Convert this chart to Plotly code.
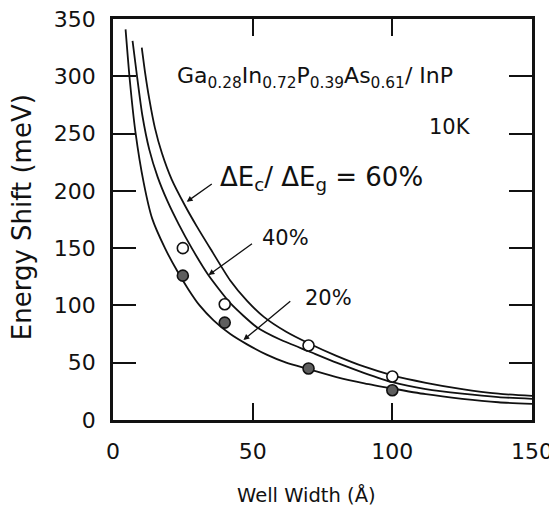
import plotly.graph_objects as go

# Calculated curves
x_60 = [10.3, 11.5, 13, 15, 17.5, 21, 25.8, 30, 35, 41.9, 48, 54, 62, 70, 80, 90, 100, 112, 125, 138, 150]
y_60 = [325, 303, 280, 255, 233, 210, 187, 169, 149, 122, 104, 90, 77, 67, 56, 46.5, 39, 32.5, 27, 23, 21]

x_40 = [7, 8.5, 10.5, 13, 16, 19.5, 23.5, 28.2, 34, 42, 51.5, 60, 70, 80, 90, 100, 112, 125, 138, 150]
y_40 = [331, 302, 266, 236, 212, 191, 171, 150, 127, 102, 81, 70, 60, 50, 41, 33, 27, 23, 20, 18.5]

x_20 = [4.5, 6, 8, 11, 14, 18.6, 23, 27, 31, 36, 42, 48, 55, 62, 70, 80, 90, 100, 112, 125, 138, 150]
y_20 = [341, 297, 252, 207, 176, 150, 130, 114, 100, 87, 75, 66, 57, 50, 44.5, 37.5, 32, 27.5, 22.5, 18.5, 15.5, 14]

# Measured points
x_open = [25, 40, 70, 100]
y_open = [150, 101, 65, 38]
x_filled = [25, 40, 70, 100]
y_filled = [126, 85, 45, 26]

x_ticks = [0, 50, 100, 150]
y_ticks = [0, 50, 100, 150, 200, 250, 300, 350]

FONT = "DejaVu Sans"
INK = "#111111"

fig = go.Figure()
for xs, ys in [(x_60, y_60), (x_40, y_40), (x_20, y_20)]:
    fig.add_trace(go.Scatter(x=xs, y=ys, mode="lines",
                             line=dict(color=INK, width=1.8, shape="spline", smoothing=0.6),
                             showlegend=False, hoverinfo="skip"))

fig.add_trace(go.Scatter(x=x_open, y=y_open, mode="markers",
                         marker=dict(symbol="circle", size=11, color="white",
                                     line=dict(color=INK, width=1.6)),
                         showlegend=False))
fig.add_trace(go.Scatter(x=x_filled, y=y_filled, mode="markers",
                         marker=dict(symbol="circle", size=11, color="#5e5e5e",
                                     line=dict(color=INK, width=1.6)),
                         showlegend=False))

tfont = dict(family=FONT, size=21, color=INK)
fig.add_annotation(x=22.2, y=299, xref="x", yref="y", xanchor="left", yanchor="middle",
                   text="Ga<sub>0.28</sub>In<sub>0.72</sub>P<sub>0.39</sub>As<sub>0.61</sub>/ InP",
                   showarrow=False, font=dict(family=FONT, size=22, color=INK))
fig.add_annotation(x=129, y=256, xref="x", yref="y", xanchor="right", yanchor="middle",
                   text="10K", showarrow=False, font=tfont)
fig.add_annotation(x=37.6, y=211, xref="x", yref="y", xanchor="left", yanchor="middle",
                   text="ΔE<sub>c</sub>/ ΔE<sub>g</sub> = 60%", showarrow=False,
                   font=dict(family=FONT, size=26, color=INK))
fig.add_annotation(x=61.6, y=159, xref="x", yref="y", xanchor="center", yanchor="middle",
                   text="40%", showarrow=False, font=tfont)
fig.add_annotation(x=77, y=106.5, xref="x", yref="y", xanchor="center", yanchor="middle",
                   text="20%", showarrow=False, font=tfont)

# axis titles
fig.add_annotation(x=0.461, y=-0.188, xref="paper", yref="paper", xanchor="center", yanchor="middle",
                   text="Well Width (Å)", showarrow=False, font=dict(family=FONT, size=19.5, color=INK))
fig.add_annotation(x=-0.217, y=0.506, xref="paper", yref="paper", xanchor="center", yanchor="middle",
                   text="Energy Shift (meV)", showarrow=False, textangle=-90,
                   font=dict(family=FONT, size=26, color=INK))

# arrows
for (hx, hy, tx, ty) in [(26.4, 190.5, 35.9, 207), (34.2, 126.5, 50.3, 154.7), (46.7, 69.8, 64, 104.7)]:
    fig.add_annotation(x=hx, y=hy, ax=tx, ay=ty, xref="x", yref="y", axref="x", ayref="y",
                       text="", showarrow=True, arrowhead=2, arrowsize=0.9, arrowwidth=1.3,
                       arrowcolor=INK)

fig.update_xaxes(range=[0, 150], tickvals=x_ticks, ticktext=[str(v) for v in x_ticks],
                 showline=True, linecolor=INK, linewidth=2.5, mirror="ticks",
                 ticks="inside", ticklen=17, tickwidth=1.5, tickcolor=INK,
                 showgrid=False, zeroline=False, automargin=False, ticklabelstandoff=10,
                 ticklabeloverflow="allow",
                 tickfont=dict(family=FONT, size=22, color=INK))
fig.update_yaxes(range=[0, 350], tickvals=y_ticks, ticktext=[str(v) for v in y_ticks],
                 showline=True, linecolor=INK, linewidth=2.5, mirror="ticks",
                 ticks="inside", ticklen=23, tickwidth=1.5, tickcolor=INK,
                 showgrid=False, zeroline=False, automargin=False, ticklabelstandoff=10,
                 ticklabeloverflow="allow",
                 tickfont=dict(family=FONT, size=22, color=INK))

# page body has an 8px default margin, so the figure is shrunk by 8px and margins adjusted
fig.update_layout(width=549, height=499, margin=dict(l=105, r=25, t=11, b=87),
                  plot_bgcolor="white", paper_bgcolor="white", showlegend=False)

fig.write_html("out.html")
